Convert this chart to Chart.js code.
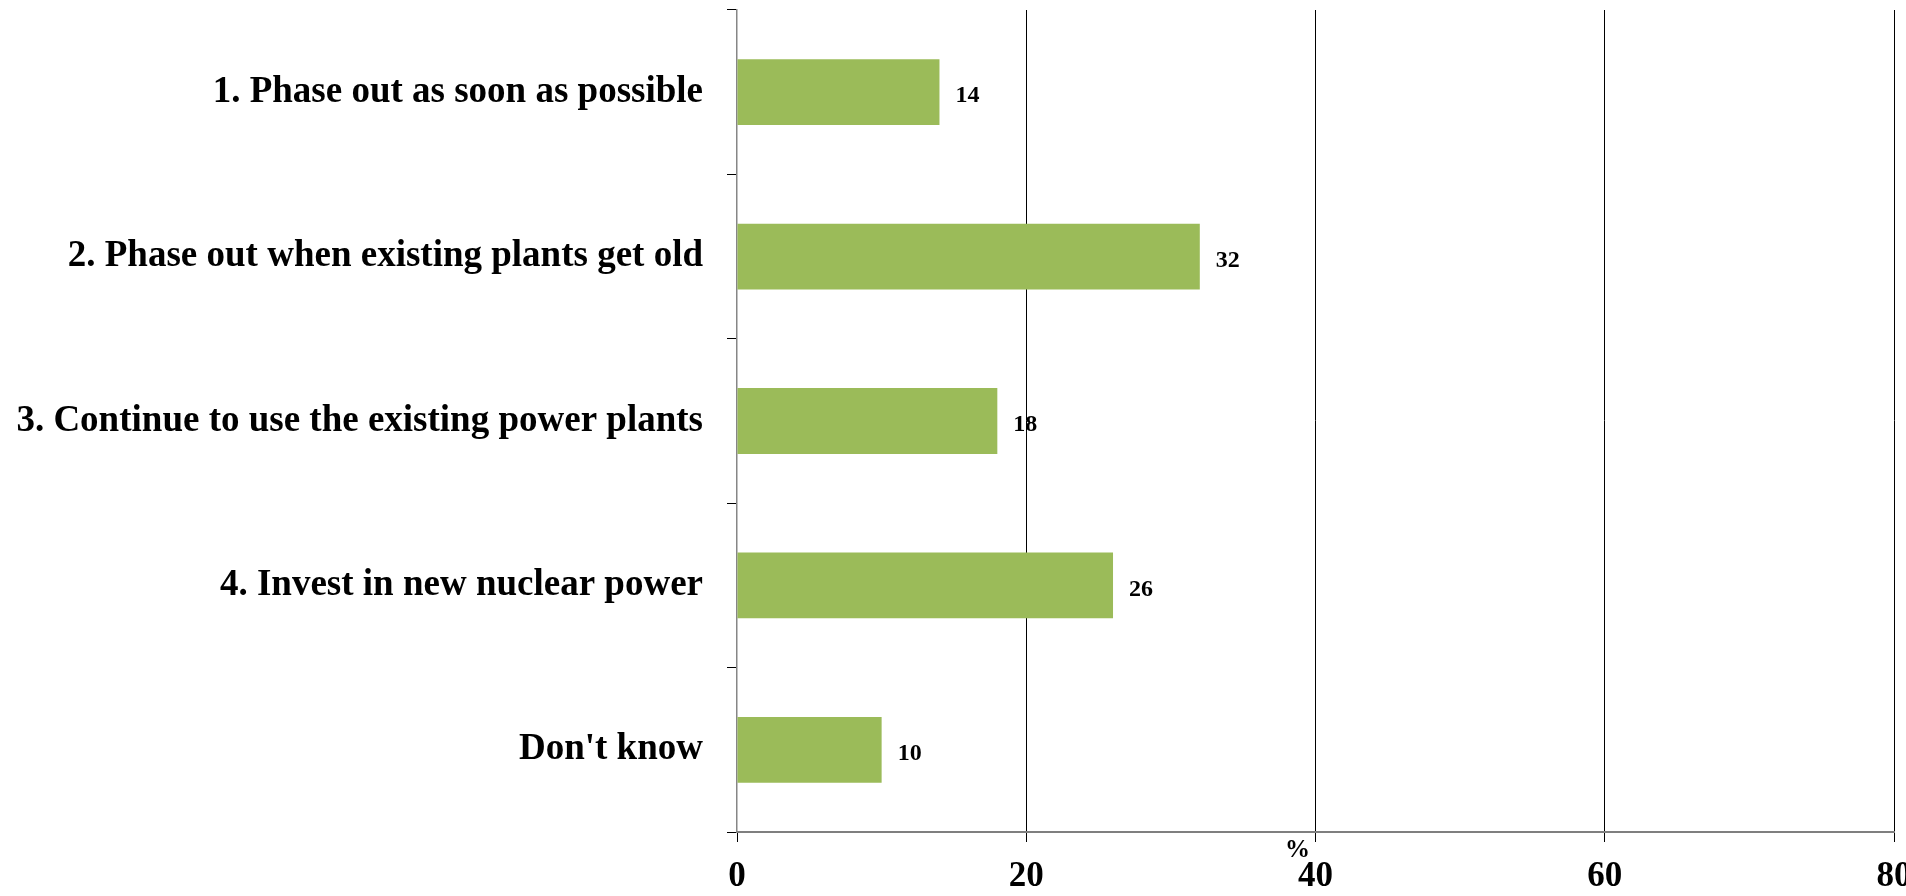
<!DOCTYPE html>
<html><head><meta charset="utf-8">
<script src="https://cdn.jsdelivr.net/npm/chart.js@4.4.0/dist/chart.umd.min.js"></script>
<style>html,body{margin:0;padding:0;background:#fff;overflow:hidden}#wrap{width:1906px;height:896px;position:relative;overflow:hidden}</style>
</head><body><div id="wrap"><canvas id="c" width="1906" height="896"></canvas></div>
<script>
const categories = [
  "1. Phase out as soon as possible",
  "2. Phase out when existing plants get old",
  "3. Continue to use the existing power plants",
  "4. Invest in new nuclear power",
  "Don't know"
];
const values = [14, 32, 18, 26, 10];
const xTicks = [0, 20, 40, 60, 80];
const axisTitle = "%";
const FONT = "'Liberation Serif','Times New Roman',serif";

const valueLabels = {
  id: 'valueLabels',
  afterDatasetsDraw(chart) {
    const ctx = chart.ctx;
    const meta = chart.getDatasetMeta(0);
    const data = chart.data.datasets[0].data;
    ctx.save();
    ctx.font = `bold 24px ${FONT}`;
    ctx.fillStyle = '#000';
    ctx.textAlign = 'left';
    ctx.textBaseline = 'middle';
    meta.data.forEach((bar, i) => {
      ctx.fillText(String(data[i]), bar.x + 16, bar.y + 4);
    });
    ctx.restore();
  }
};

const pctTitle = {
  id: 'pctTitle',
  afterDraw(chart) {
    const xs = chart.scales.x;
    const ctx = chart.ctx;
    ctx.save();
    ctx.font = `bold 25px ${FONT}`;
    ctx.fillStyle = '#000';
    ctx.textAlign = 'center';
    ctx.textBaseline = 'middle';
    ctx.fillText(axisTitle, xs.getPixelForValue(xTicks[2]) - 18, xs.top + 19);
    ctx.restore();
  }
};

new Chart(document.getElementById('c'), {
  type: 'bar',
  data: {
    labels: categories,
    datasets: [{
      data: values,
      backgroundColor: '#9BBB59',
      borderWidth: 0,
      barPercentage: 0.4,
      categoryPercentage: 1.0
    }]
  },
  options: {
    indexAxis: 'y',
    responsive: false,
    animation: false,
    devicePixelRatio: 1,
    layout: { padding: { top: 10, right: 12, left: 0, bottom: 0 } },
    plugins: { legend: { display: false }, tooltip: { enabled: false } },
    scales: {
      x: {
        min: xTicks[0],
        max: xTicks[xTicks.length - 1],
        afterBuildTicks: s => { s.ticks = xTicks.map(v => ({ value: v })); },
        afterFit: s => { s.height = 64; s.paddingLeft = 0; s.paddingRight = 0; },
        grid: {
          color: c => c.index === 0 ? 'rgba(0,0,0,0)' : '#000',
          tickColor: '#000',
          tickLength: 10,
          lineWidth: 1
        },
        border: { display: true, color: '#7f7f7f', width: 2 },
        ticks: {
          color: '#000',
          padding: 13.5,
          maxRotation: 0,
          font: { family: FONT, size: 35, weight: 'bold', lineHeight: 1.2 }
        }
      },
      y: {
        afterFit: s => { s.width = 737; s.paddingTop = 0; s.paddingBottom = 0; },
        grid: {
          offset: true,
          drawOnChartArea: false,
          drawTicks: true,
          tickLength: 10,
          color: '#000',
          lineWidth: 1
        },
        border: { display: true, color: '#868686', width: 1.5 },
        ticks: {
          color: '#000',
          padding: 24,
          font: { family: FONT, size: 37, weight: 'bold' }
        }
      }
    }
  },
  plugins: [valueLabels, pctTitle]
});
</script>
</body></html>
